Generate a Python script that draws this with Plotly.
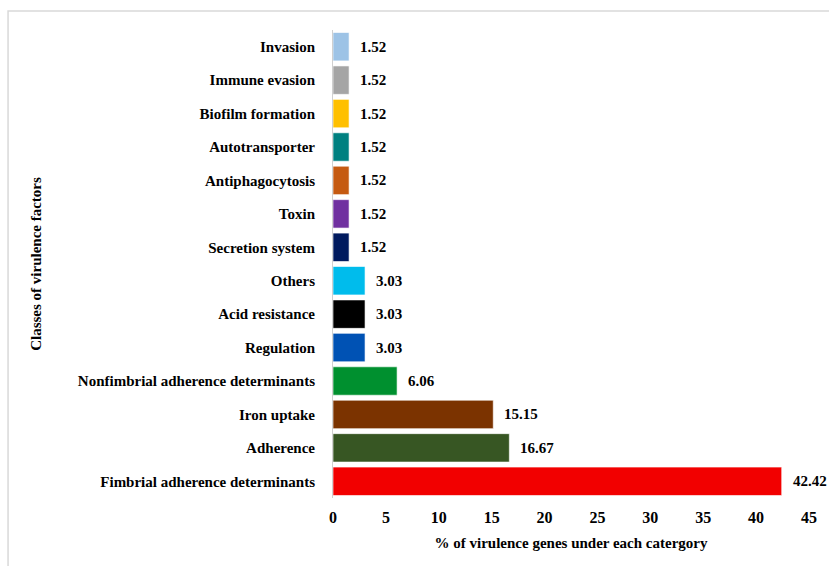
import plotly.graph_objects as go

categories = ["Invasion", "Immune evasion", "Biofilm formation", "Autotransporter",
              "Antiphagocytosis", "Toxin", "Secretion system", "Others",
              "Acid resistance", "Regulation", "Nonfimbrial adherence determinants",
              "Iron uptake", "Adherence", "Fimbrial adherence determinants"]
values = [1.52, 1.52, 1.52, 1.52, 1.52, 1.52, 1.52, 3.03, 3.03, 3.03, 6.06, 15.15, 16.67, 42.42]
colors = ["#9DC3E6", "#A5A5A5", "#FFC000", "#008080", "#C55A11", "#7030A0", "#001A5E",
          "#00BCEC", "#000000", "#0052B4", "#00902F", "#7B3300", "#375623", "#F20000"]
x_ticks = [0, 5, 10, 15, 20, 25, 30, 35, 40, 45]

FONT = "Liberation Serif"

fig = go.Figure()
fig.add_trace(go.Bar(
    y=categories, x=values, orientation="h",
    marker=dict(color=colors, line=dict(color="rgba(255,255,255,0.6)", width=1)),
    hoverinfo="x+y",
))

annotations = []
for c, v in zip(categories, values):
    annotations.append(dict(
        x=v, y=c, xref="x", yref="y", text=f"<b>{v:.2f}</b>",
        showarrow=False, xanchor="left", xshift=9,
        font=dict(family=FONT, size=15, color="black"),
    ))
fig.update_layout(annotations=annotations)

fig.update_layout(
    width=829, height=566,
    margin=dict(l=333, r=17, t=30, b=68),
    paper_bgcolor="white", plot_bgcolor="white",
    bargap=0.15,
    showlegend=False,
    font=dict(family=FONT, size=15, color="black"),
    xaxis=dict(
        range=[0, 45], tickvals=x_ticks, ticktext=[f"<b>{t}</b>" for t in x_ticks],
        showgrid=False, zeroline=False, showline=False,
        tickfont=dict(family=FONT, size=16, color="black"),
        title=dict(text="<b>% of virulence genes under each catergory</b>",
                   font=dict(family=FONT, size=15, color="black"), standoff=12),
        ticks="", ticklabelstandoff=8,
    ),
    yaxis=dict(
        autorange="reversed",
        ticktext=[f"<b>{c}</b>" for c in categories], tickvals=categories,
        showgrid=False, zeroline=False,
        showline=True, linecolor="#D0D0D0", linewidth=1,
        tickfont=dict(family=FONT, size=15, color="black"),
        ticks="", ticklabelstandoff=14,
        title=dict(text="<b>Classes of virulence factors</b>",
                   font=dict(family=FONT, size=15, color="black"), standoff=32),
    ),
    shapes=[dict(type="rect", xref="paper", yref="paper",
                 x0=(6 - 333) / 479, x1=1.1, y0=-0.3, y1=1 + (30 - 11) / 468,
                 line=dict(color="#D9D9D9", width=1.5), fillcolor="rgba(0,0,0,0)",
                 layer="below")],
)

fig.write_html("out.html")
